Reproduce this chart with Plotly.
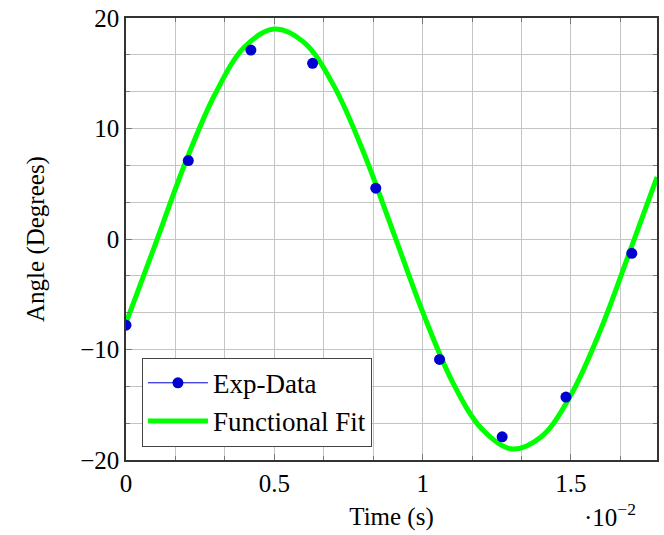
import plotly.graph_objects as go

# Experimental data (time in s, angle in degrees)
exp_t = [0.0, 0.00210, 0.00421, 0.00629, 0.00842, 0.01057, 0.01268, 0.01483, 0.01705]
exp_angle = [-7.8, 7.1, 17.1, 15.9, 4.6, -10.9, -17.9, -14.3, -1.3]

# Functional fit curve values
fit_t = [0.0, 0.001, 0.002, 0.003, 0.004, 0.005, 0.006, 0.007, 0.008, 0.009,
         0.010, 0.011, 0.012, 0.013, 0.014, 0.015, 0.016, 0.017, 0.0179]
fit_angle = [-7.6, -0.4, 6.9, 13.1, 17.4, 19.0, 17.8, 13.9, 7.9, 0.7,
             -6.6, -12.9, -17.2, -19.0, -17.9, -14.1, -8.2, -1.0, 5.6]

x_tickvals = [0, 0.005, 0.01, 0.015]
x_ticktext = ["0", "0.5", "1", "1.5"]
y_tickvals = [-20, -10, 0, 10, 20]

FONT = "Liberation Serif"
FS = 25
BLUE = "#0000d0"
GREEN = "#00ff00"
AX = "#333333"
GRID = "#c4c4c4"

fig = go.Figure()
fig.add_trace(go.Scatter(x=fit_t, y=fit_angle, mode="lines", name="Functional Fit",
                         line=dict(color=GREEN, width=5, shape="spline", smoothing=1.0),
                         showlegend=False))
fig.add_trace(go.Scatter(x=exp_t, y=exp_angle, mode="markers", name="Exp-Data",
                         marker=dict(color=BLUE, size=11), showlegend=False))
# legend entries
fig.add_trace(go.Scatter(x=[None], y=[None], mode="lines+markers", name="Exp-Data",
                         marker=dict(color=BLUE, size=11), line=dict(color=BLUE, width=1)))
fig.add_trace(go.Scatter(x=[None], y=[None], mode="lines", name="Functional Fit",
                         line=dict(color=GREEN, width=5)))

fig.update_layout(
    width=664, height=535,
    margin=dict(l=126, r=5, t=17, b=75),
    paper_bgcolor="white", plot_bgcolor="white",
    font=dict(family=FONT, size=FS, color="black"),
    legend=dict(x=0.03, y=0.03, xanchor="left", yanchor="bottom",
                bordercolor="#444444", borderwidth=1, bgcolor="white",
                font=dict(family=FONT, size=27), itemwidth=60, tracegroupgap=0),
    xaxis=dict(range=[0, 0.0179], tickvals=x_tickvals, ticktext=x_ticktext,
               showline=True, linecolor=AX, linewidth=1.5, mirror="ticks",
               ticks="inside", ticklen=6, tickcolor="#777777", tickwidth=1,
               showgrid=True, gridcolor=GRID, gridwidth=1, zeroline=False,
               minor=dict(dtick=0.005/3, tick0=0, ticks="inside", ticklen=4,
                          tickcolor="#777777", showgrid=True, gridcolor=GRID, gridwidth=1),
               title=dict(text="Time (s)", font=dict(size=FS), standoff=12),
               tickfont=dict(size=FS)),
    yaxis=dict(range=[-20, 20], tickvals=y_tickvals,
               showline=True, linecolor=AX, linewidth=1.5, mirror="ticks",
               ticks="inside", ticklen=6, tickcolor="#777777", tickwidth=1,
               showgrid=True, gridcolor=GRID, gridwidth=1, zeroline=False,
               minor=dict(dtick=10/3, tick0=0, ticks="inside", ticklen=4,
                          tickcolor="#777777", showgrid=True, gridcolor=GRID, gridwidth=1),
               title=dict(text="Angle (Degrees)", font=dict(size=FS), standoff=28),
               tickfont=dict(size=FS)),
)
fig.add_annotation(text="·10<sup>−2</sup>", xref="paper", yref="paper",
                   x=0.965, y=-0.125, xanchor="right", yanchor="middle",
                   showarrow=False, font=dict(family=FONT, size=FS))

fig.write_html("out.html")
